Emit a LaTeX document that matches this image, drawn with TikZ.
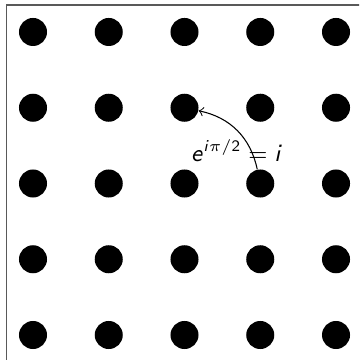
\documentclass[tikz,border=0pt]{standalone}
\DeclareMathAlphabet{\mathsfsl}{OT1}{cmss}{m}{sl}
\begin{document}
\begin{tikzpicture}[
  dot/.style={circle,fill=black,draw=none,inner sep=0pt,minimum size=0.37cm},
  frame/.style={draw=black!65,line width=0.4pt},
  conn/.style={->,line width=0.4pt}
]
\useasboundingbox (-0.4356,-0.330) rectangle (4.3036,4.4224);
\begin{scope}
\clip (-0.4356,-0.330) rectangle (4.3036,4.4224);
\draw[frame] (-0.35,-1) rectangle (5,4.356);
\end{scope}
\foreach \i in {0,...,4}{
  \foreach \j in {0,...,4}{
    \node[dot] (d\i\j) at (\i,\j) {};
  }
}
\node[font=\fontsize{8.6}{10}\selectfont] (lab) at (2.69,2.44) {$\mathsfsl{e}^{\mathsfsl{i}\pi\mathsf{/2}} = \mathsfsl{i}$};
\draw[conn] (d32) to[out=102,in=-12] (d23);
\end{tikzpicture}
\end{document}
